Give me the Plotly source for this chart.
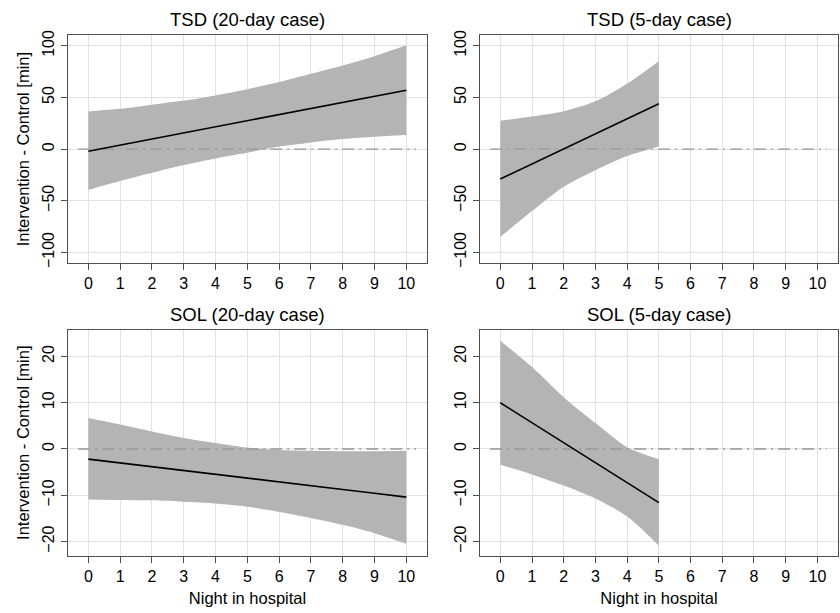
import plotly.graph_objects as go

# ---------------- data ----------------
nights20 = [0, 1, 2, 3, 4, 5, 6, 7, 8, 9, 10]
nights5 = [0, 1, 2, 3, 4, 5]

tsd20_mean = [-2.0, 3.9, 9.8, 15.7, 21.6, 27.5, 33.4, 39.3, 45.2, 51.1, 57.0]
tsd20_upper = [36.5, 39.0, 43.0, 47.0, 52.0, 58.0, 65.0, 73.0, 81.0, 90.0, 100.5]
tsd20_lower = [-39.5, -31.0, -23.0, -15.5, -9.0, -3.5, 2.5, 6.5, 9.8, 12.0, 13.7]

tsd5_mean = [-29.0, -14.4, 0.2, 14.8, 29.4, 44.0]
tsd5_upper = [27.5, 31.6, 36.7, 46.3, 63.3, 85.0]
tsd5_lower = [-85.0, -60.0, -36.4, -20.4, -6.7, 2.6]

sol20_mean = [-2.2, -3.0, -3.84, -4.66, -5.48, -6.3, -7.12, -7.94, -8.76, -9.58, -10.4]
sol20_upper = [6.7, 5.3, 3.8, 2.4, 1.3, 0.3, -0.2, -0.4, -0.5, -0.5, -0.4]
sol20_lower = [-10.9, -11.0, -11.1, -11.4, -11.8, -12.5, -13.6, -14.9, -16.4, -18.2, -20.5]

sol5_mean = [10.0, 5.68, 1.36, -2.96, -7.28, -11.6]
sol5_upper = [23.4, 17.7, 11.2, 5.6, 0.4, -2.2]
sol5_lower = [-3.4, -5.5, -7.9, -10.7, -14.6, -20.9]

panel_titles = ["TSD (20-day case)", "TSD (5-day case)", "SOL (20-day case)", "SOL (5-day case)"]
x_ticks = list(range(0, 11))
tsd_yticks = [-100, -50, 0, 50, 100]
sol_yticks = [-20, -10, 0, 10, 20]
y_title = "Intervention - Control [min]"
x_title = "Night in hospital"

# ---------------- layout geometry ----------------
W, H = 840, 613
def px_x(a, b):
    return [a / W, b / W]
def px_y(top, bottom):
    return [1 - bottom / H, 1 - top / H]

dom_x = [px_x(68, 427), px_x(480, 838)]
dom_y = [px_y(31, 262), px_y(330, 560)]

panels = [
    (nights20, tsd20_mean, tsd20_upper, tsd20_lower, 0, 0, tsd_yticks, [-110, 110]),
    (nights5, tsd5_mean, tsd5_upper, tsd5_lower, 1, 0, tsd_yticks, [-110, 110]),
    (nights20, sol20_mean, sol20_upper, sol20_lower, 0, 1, sol_yticks, [-23.1, 25.8]),
    (nights5, sol5_mean, sol5_upper, sol5_lower, 1, 1, sol_yticks, [-23.1, 25.8]),
]

FONT = "Liberation Sans, Arial, sans-serif"
BAND = "rgb(180,180,180)"
GRID = "rgb(226,226,226)"
AXC = "rgb(80,80,80)"

fig = go.Figure()
layout = dict(
    width=W, height=H,
    margin=dict(l=0, r=0, t=0, b=0),
    paper_bgcolor="white", plot_bgcolor="white",
    showlegend=False,
    font=dict(family=FONT, color="black", size=16),
)

annotations = []
for i, (xs, mean, up, lo, col, row, yt, yr) in enumerate(panels):
    k = i + 1
    xa = "x" if k == 1 else f"x{k}"
    ya = "y" if k == 1 else f"y{k}"
    # band: lower edge, then upper edge filled to it
    fig.add_trace(go.Scatter(x=xs, y=lo, mode="lines",
                             line=dict(width=0, shape="spline", smoothing=0.8, color=BAND),
                             hoverinfo="skip", xaxis=xa, yaxis=ya))
    fig.add_trace(go.Scatter(x=xs, y=up, mode="lines", fill="tonexty", fillcolor=BAND,
                             line=dict(width=0, shape="spline", smoothing=0.8, color=BAND),
                             hoverinfo="skip", xaxis=xa, yaxis=ya))
    # zero reference line (dash-dot)
    fig.add_trace(go.Scatter(x=[-0.32, 10.3], y=[0, 0], mode="lines",
                             line=dict(color="rgb(150,150,150)", width=1.4,
                                       dash="12px,5px,2px,5px"),
                             hoverinfo="skip", xaxis=xa, yaxis=ya))
    # mean line
    fig.add_trace(go.Scatter(x=xs, y=mean, mode="lines",
                             line=dict(color="black", width=1.6),
                             xaxis=xa, yaxis=ya))

    xkey = "xaxis" if k == 1 else f"xaxis{k}"
    ykey = "yaxis" if k == 1 else f"yaxis{k}"
    layout[xkey] = dict(
        domain=dom_x[col], anchor=ya, range=[-0.64, 10.65],
        tickmode="array", tickvals=x_ticks, ticktext=[str(v) for v in x_ticks],
        showgrid=True, gridcolor=GRID, gridwidth=1,
        showline=True, linecolor=AXC, linewidth=1.3, mirror=True,
        ticks="outside", ticklen=6, tickcolor=AXC, tickwidth=1.3,
        tickfont=dict(size=16, family=FONT), zeroline=False,
        title=dict(text=x_title if row == 1 else "", font=dict(size=16.5, family=FONT), standoff=8),
    )
    layout[ykey] = dict(
        domain=dom_y[row], anchor=xa, range=yr,
        tickmode="array", tickvals=yt, ticktext=[str(v).replace("-", "\u2212") for v in yt],
        tickangle=-90,
        showgrid=True, gridcolor=GRID, gridwidth=1,
        showline=True, linecolor=AXC, linewidth=1.3, mirror=True,
        ticks="outside", ticklen=6, tickcolor=AXC, tickwidth=1.3,
        tickfont=dict(size=16, family=FONT), zeroline=False,
        title=dict(text=y_title if col == 0 else "", font=dict(size=16.5, family=FONT), standoff=6),
    )
    # panel title
    cx = (dom_x[col][0] + dom_x[col][1]) / 2
    annotations.append(dict(text=panel_titles[i], x=cx, y=dom_y[row][1], xref="paper", yref="paper",
                            xanchor="center", yanchor="bottom", yshift=3, showarrow=False,
                            font=dict(size=18.5, family=FONT, color="black")))

layout["annotations"] = annotations
fig.update_layout(**layout)
fig.write_html("out.html")
